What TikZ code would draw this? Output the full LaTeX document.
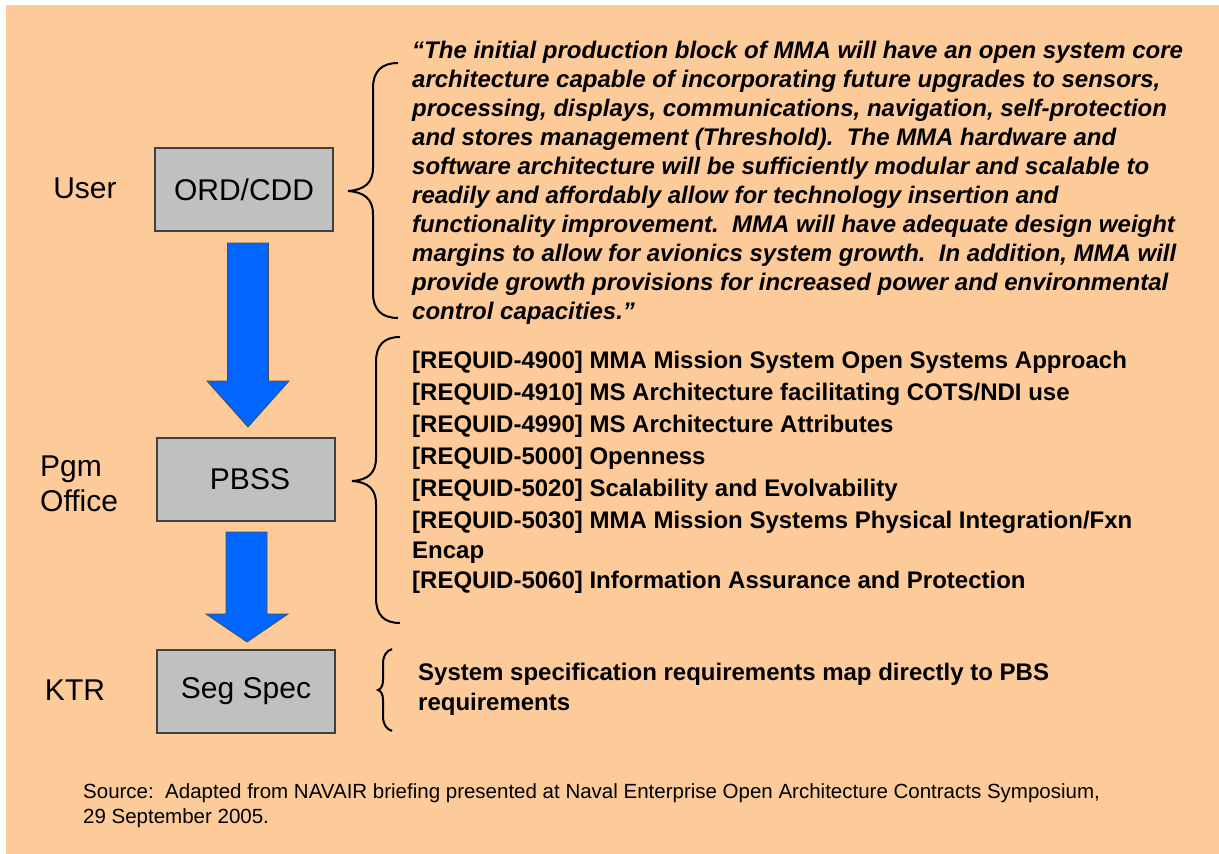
\documentclass[tikz,border=0pt]{standalone}
\usepackage{fontspec}
\setmainfont{Liberation Sans}
\usetikzlibrary{calc}
\definecolor{peach}{HTML}{FDCB99}
\definecolor{boxgray}{HTML}{C0C0C0}
\definecolor{boxedge}{HTML}{404040}
\definecolor{arrowblue}{HTML}{0066FF}
\begin{document}
\begin{tikzpicture}[x=1pt,y=-1pt,
  box/.style={draw=boxedge, fill=boxgray, line width=1.5pt, minimum width=178pt, minimum height=83pt, inner sep=0pt, font=\fontsize{30}{34}\selectfont},
  lab/.style={font=\fontsize{30}{35}\selectfont, inner sep=0pt},
  brace/.style={draw=black, line width=2pt},
  blockarrow/.style={fill=arrowblue, draw=black!70, line width=0.8pt, line join=miter},
  quotetext/.style={font=\fontsize{24}{29}\selectfont\bfseries\itshape, align=left, anchor=north west, inner sep=0pt},
  reqtext/.style={font=\fontsize{24}{30}\selectfont\bfseries, align=left, anchor=north west, inner sep=0pt},
  srctext/.style={font=\fontsize{20.5}{25}\selectfont, align=left, anchor=north west, inner sep=0pt}]
\useasboundingbox (0,0) rectangle (1219,854);
\fill[white] (0,0) rectangle (1219,854);
\fill[peach] (6,5) rectangle (1219,854);

% labels
\node[lab] (user) at (85,188) {User};
\node[lab, align=left, anchor=north west] (pgm) at (40,456) {Pgm\\Office};
\node[lab] (ktr) at (75,690) {KTR};

% boxes
\node[box] (ord) at (244,189.5) {ORD/CDD};
\node[box] (pbss) at (246,479.5) {\hspace*{8pt}PBSS};
\node[box] (seg) at (246,691.5) {Seg Spec};

% block arrows
\path[blockarrow] (227.5,243) -- (268.5,243) -- (268.5,381) -- (289,381) -- (248,427) -- (207,381) -- (227.5,381) -- cycle;
\path[blockarrow] (226,532) -- (267,532) -- (267,614) -- (288,614) -- (247,642) -- (206,614) -- (226,614) -- cycle;

% braces
\path[brace] (398,63) .. controls (382,63) and (373,71) .. (373,88) -- (373,168) .. controls (373,183) and (364,190) .. (348,191) .. controls (364,192) and (373,199) .. (373,214) -- (373,293) .. controls (373,310) and (382,318) .. (398,318);
\path[brace] (400,337) .. controls (384,337) and (376,345) .. (376,362) -- (376,458) .. controls (376,473) and (368,480) .. (352,481) .. controls (368,482) and (376,489) .. (376,504) -- (376,598) .. controls (376,615) and (384,623) .. (400,623);
\path[brace] (392,649) .. controls (386,651) and (383,656) .. (383,664) -- (383,680) .. controls (383,686) and (381,689) .. (378,690) .. controls (381,691) and (383,694) .. (383,700) -- (383,716) .. controls (383,724) and (386,729) .. (392,731);

% texts
\node[quotetext] (quote) at (412,41) {“The initial production block of MMA will have an open system core\\
architecture capable of incorporating future upgrades to sensors,\\
processing, displays, communications, navigation, self-protection\\
and stores management (Threshold).\ \ The MMA hardware and\\
software architecture will be sufficiently modular and scalable to\\
readily and affordably allow for technology insertion and\\
functionality improvement.\ \ MMA will have adequate design weight\\
margins to allow for avionics system growth.\ \ In addition, MMA will\\
provide growth provisions for increased power and environmental\\
control capacities.”};

\node[reqtext] (reqs) at (412,350.5) {{[}REQUID-4900] MMA Mission System Open Systems Approach\\[2pt]
{[}REQUID-4910] MS Architecture facilitating COTS/NDI use\\[2pt]
{[}REQUID-4990] MS Architecture Attributes\\[2pt]
{[}REQUID-5000] Openness\\[2pt]
{[}REQUID-5020] Scalability and Evolvability\\[2pt]
{[}REQUID-5030] MMA Mission Systems Physical Integration/Fxn\\
Encap\\
{[}REQUID-5060] Information Assurance and Protection};

\node[reqtext] (sysspec) at (418,662.5) {System specification requirements map directly to PBS\\
requirements};

\node[srctext] (source) at (83,783.5) {Source:\ \ Adapted from NAVAIR briefing presented at Naval Enterprise Open Architecture Contracts Symposium,\\
29 September 2005.};
\end{tikzpicture}
\end{document}
